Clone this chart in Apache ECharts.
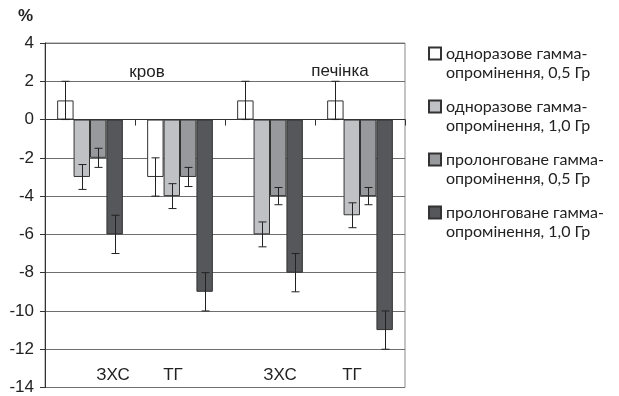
<!DOCTYPE html>
<html>
<head>
<meta charset="utf-8">
<script src="https://cdn.jsdelivr.net/npm/echarts@6/dist/echarts.min.js"></script>
<style>
  html, body { margin: 0; padding: 0; background: #fff; }
  #chart { width: 619px; height: 396px; }
</style>
</head>
<body>
<div id="chart"></div>
<script>
// Change of lipid indices (%) in blood and liver after gamma irradiation
const categories = ['ЗХС', 'ТГ', 'ЗХС', 'ТГ'];
const groupLabels = ['кров', 'печінка'];
const seriesNames = [
  'одноразове гамма-\nопромінення, 0,5 Гр',
  'одноразове гамма-\nопромінення, 1,0 Гр',
  'пролонговане гамма-\nопромінення, 0,5 Гр',
  'пролонговане гамма-\nопромінення, 1,0 Гр'
];
const single05 = [1, -3, 1, 1];
const single10 = [-3, -4, -6, -5];
const prolonged05 = [-2, -3, -4, -4];
const prolonged10 = [-6, -9, -8, -11];
const single05Err = [1, 1, 1, 1];
const single10Err = [0.65, 0.65, 0.65, 0.65];
const prolonged05Err = [0.5, 0.5, 0.45, 0.45];
const prolonged10Err = [1, 1, 1, 1];
const yTicks = [-14, -12, -10, -8, -6, -4, -2, 0, 2, 4];

const values = [single05, single10, prolonged05, prolonged10];
const errors = [single05Err, single10Err, prolonged05Err, prolonged10Err];
const fills = ['#ffffff', '#c0c1c4', '#98999c', '#56575a'];
const CAT_GAP = 0.27;

const errData = [];
values.forEach((arr, si) => {
  arr.forEach((v, ci) => errData.push([ci, si, v, errors[si][ci]]));
});

const barSeries = values.map((arr, si) => ({
  name: seriesNames[si],
  type: 'bar',
  xAxisIndex: 0,
  yAxisIndex: 0,
  data: arr,
  barGap: '0%',
  barCategoryGap: (CAT_GAP * 100) + '%',
  itemStyle: { color: fills[si], borderColor: '#333', borderWidth: 1 },
  emphasis: { disabled: true },
  animation: false
}));

const errorSeries = {
  type: 'custom',
  xAxisIndex: 0,
  yAxisIndex: 0,
  data: errData,
  encode: { x: 0, y: 2 },
  silent: true,
  animation: false,
  z: 10,
  renderItem: function (params, api) {
    const ci = api.value(0), si = api.value(1), v = api.value(2), e = api.value(3);
    const band = api.size([1, 0])[0];
    const bw = band * (1 - CAT_GAP) / 4;
    const x = Math.round(api.coord([ci, 0])[0] + (si - 1.5) * bw) + 0.5;
    const yHi = api.coord([ci, v + e])[1];
    const yLo = api.coord([ci, v - e])[1];
    const cap = 4;
    const st = { stroke: '#222', lineWidth: 1 };
    return {
      type: 'group',
      children: [
        { type: 'line', shape: { x1: x, y1: yHi, x2: x, y2: yLo }, style: st },
        { type: 'line', shape: { x1: x - cap, y1: yHi, x2: x + cap, y2: yHi }, style: st },
        { type: 'line', shape: { x1: x - cap, y1: yLo, x2: x + cap, y2: yLo }, style: st }
      ]
    };
  }
};

const chart = echarts.init(document.getElementById('chart'), null, { renderer: 'canvas' });
chart.setOption({
  backgroundColor: '#fff',
  animation: false,
  textStyle: { fontFamily: 'Liberation Sans' },
  grid: {
    left: 45, right: 214, top: 43, bottom: 4,
    show: true, borderColor: '#8a8a8a', borderWidth: 1, backgroundColor: 'transparent'
  },
  legend: {
    orient: 'vertical',
    left: 428,
    top: 25,
    padding: 0,
    itemGap: -4,
    itemWidth: 12,
    itemHeight: 12,
    icon: 'rect',
    selectedMode: false,
    data: seriesNames,
    // a blank leading line keeps the marker level with the first text line
    formatter: name => '\n' + name,
    textStyle: {
      fontFamily: 'Lato',
      fontSize: 16,
      lineHeight: 19,
      color: '#222'
    }
  },
  xAxis: [
    {
      type: 'category',
      data: categories,
      axisLine: { onZero: true, lineStyle: { color: '#333', width: 1 } },
      axisTick: { show: true, length: 6, lineStyle: { color: '#333' } },
      axisLabel: { show: false },
      splitLine: { show: false }
    },
    {
      type: 'category',
      data: categories,
      position: 'bottom',
      axisLine: { show: false },
      axisTick: { show: false },
      axisLabel: {
        inside: true,
        margin: 4,
        fontSize: 17,
        color: '#222',
        formatter: (v, i) => '{c' + i + '|' + v + '}',
        rich: {
          c0: { fontSize: 17, color: '#222', padding: [0, 0, 0, 46] },
          c1: { fontSize: 17, color: '#222', padding: [0, 14, 0, 0] },
          c2: { fontSize: 17, color: '#222', padding: [0, 0, 0, 20] },
          c3: { fontSize: 17, color: '#222', padding: [0, 16, 0, 0] }
        }
      },
      splitLine: { show: false }
    }
  ],
  yAxis: {
    type: 'value',
    min: yTicks[0],
    max: yTicks[yTicks.length - 1],
    interval: 2,
    axisLine: { show: true, lineStyle: { color: '#333' } },
    axisTick: { show: true, length: 5, lineStyle: { color: '#333' } },
    axisLabel: { fontSize: 17, color: '#222', margin: 11 },
    splitLine: { show: true, lineStyle: { color: '#6e6e6e', width: 1 } }
  },
  graphic: [
    { type: 'text', left: 18, top: 8, style: { text: '%', font: 'bold 17px "Liberation Sans"', fill: '#222' } },
    { type: 'text', x: 147, y: 72, style: { text: groupLabels[0], font: '17px "Liberation Sans"', fill: '#222', align: 'center', verticalAlign: 'middle' } },
    { type: 'text', x: 340, y: 71, style: { text: groupLabels[1], font: '17px "Liberation Sans"', fill: '#222', align: 'center', verticalAlign: 'middle' } }
  ],
  series: barSeries.concat([errorSeries])
});
</script>
</body>
</html>
